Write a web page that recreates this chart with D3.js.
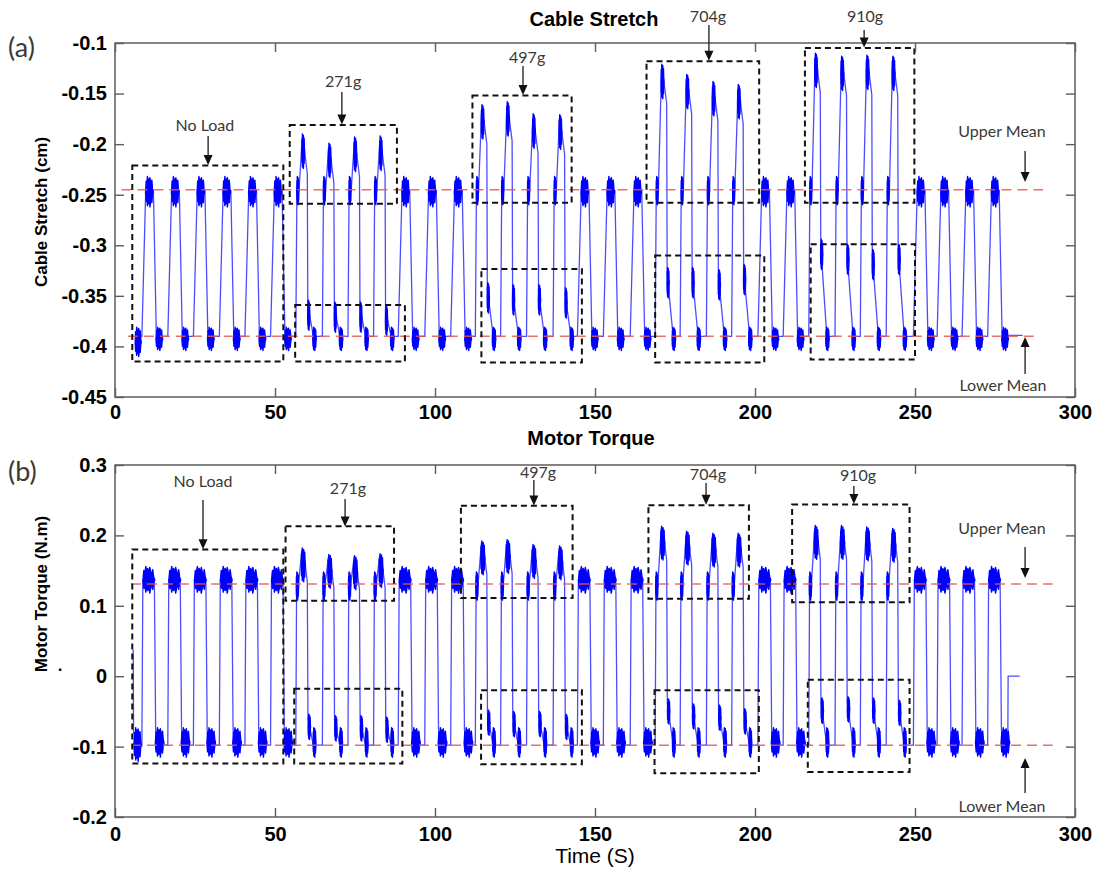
<!DOCTYPE html>
<html>
<head>
<meta charset="utf-8">
<script src="https://cdn.jsdelivr.net/npm/d3@7"></script>
<style>
    body { margin: 0; background: #fff; }
    svg { display: block; }
</style>
</head>
<body>
<svg width="1097" height="869"></svg>
<script>
(function () {
    'use strict'

    // time (s) at which each pulse starts to rise
    const riseStart = [8.4, 16.5, 24.5, 32.6, 40.6, 48.6,
        56.5, 64.8, 72.8, 80.8,
        88.5, 96.8, 104.9,
        112.6, 120.5, 128.6, 136.9,
        144.5, 152.6, 161.0,
        168.8, 176.6, 184.8, 192.7,
        200.9, 208.8,
        216.8, 225.0, 232.9, 241.0,
        249.5, 256.9, 264.7, 272.7];

    // 0 = no load, 1 = 271g, 2 = 497g, 3 = 704g, 4 = 910g
    const cycleLoad = [0, 0, 0, 0, 0, 0, 1, 1, 1, 1, 0, 0, 0, 2, 2, 2, 2, 0, 0, 0,
        3, 3, 3, 3, 0, 0, 4, 4, 4, 4, 0, 0, 0, 0];
    const loadNames = ['No Load', '271g', '497g', '704g', '910g'];

    // cable stretch (cm): top of each pulse, and where the falling hook starts
    const stretchPeak = [-0.243, -0.242, -0.244, -0.243, -0.242, -0.245,
        -0.194, -0.203, -0.197, -0.196,
        -0.244, -0.243, -0.242,
        -0.165, -0.162, -0.174, -0.175,
        -0.245, -0.243, -0.244,
        -0.125, -0.135, -0.142, -0.145,
        -0.242, -0.244,
        -0.114, -0.117, -0.116, -0.117,
        -0.243, -0.242, -0.244, -0.243];
    const stretchHook = [null, null, null, null, null, null,
        -0.360, -0.362, -0.362, -0.365,
        null, null, null,
        -0.343, -0.345, -0.345, -0.348,
        null, null, null,
        -0.328, -0.328, -0.330, -0.325,
        null, null,
        -0.300, -0.305, -0.310, -0.305,
        null, null, null, null];

    // motor torque (N.m)
    const torquePeak = [0.135, 0.135, 0.135, 0.135, 0.135, 0.135,
        0.179, 0.170, 0.168, 0.171,
        0.135, 0.135, 0.135,
        0.189, 0.191, 0.184, 0.182,
        0.135, 0.135, 0.135,
        0.210, 0.203, 0.200, 0.200,
        0.135, 0.135,
        0.211, 0.211, 0.209, 0.207,
        0.135, 0.135, 0.135, 0.135];
    const torqueHook = [null, null, null, null, null, null,
        -0.060, -0.062, -0.062, -0.064,
        null, null, null,
        -0.054, -0.056, -0.056, -0.060,
        null, null, null,
        -0.038, -0.045, -0.047, -0.052,
        null, null,
        -0.037, -0.035, -0.037, -0.040,
        null, null, null, null];

    // start and end of the recordings
    const stretchHead = [[6.2, -0.386]];
    const stretchTail = [[279.3, -0.389], [283.6, -0.389]];
    const torqueHead = [[5.7, 0.038], [5.8, -0.08]];
    const torqueTail = [[279.0, -0.1], [279.1, 0.0], [282.7, 0.0]];

    const upperMean = { stretch: -0.245, torque: 0.131 };
    const lowerMean = { stretch: -0.390, torque: -0.098 };

    const xTicks = [0, 50, 100, 150, 200, 250, 300];
    const stretchTicks = [-0.45, -0.4, -0.35, -0.3, -0.25, -0.2, -0.15, -0.1];
    const torqueTicks = [-0.2, -0.1, 0, 0.1, 0.2, 0.3];

    // dashed boxes [t0, t1, top, bottom]
    const stretchBoxes = [[5.4, 52.6, -0.221, -0.415], [54.6, 88.1, -0.181, -0.259], [56.3, 90.6, -0.359, -0.415],
        [111.7, 142.7, -0.152, -0.258], [114.5, 145.9, -0.3235, -0.416],
        [166.1, 201.3, -0.118, -0.258], [168.8, 202.9, -0.310, -0.416],
        [215.6, 249.8, -0.105, -0.258], [217.4, 250.0, -0.299, -0.413]];
    const torqueBoxes = [[5.4, 52.6, 0.18, -0.124], [53.3, 87.2, 0.213, 0.107], [56.0, 89.8, -0.018, -0.124],
        [108.1, 143.0, 0.242, 0.111], [114.4, 145.9, -0.02, -0.125],
        [166.7, 198.1, 0.243, 0.110], [168.6, 201.2, -0.02, -0.138],
        [211.6, 248.3, 0.244, 0.105], [216.5, 248.3, -0.005, -0.136]];

    // label [text, t, value], arrow [t, from, to]
    const stretchNotes = [[0, 28.1, -0.181, 29.1, -0.192, -0.2205], [1, 71.3, -0.1376, 70.9, -0.1484, -0.1805],
        [2, 128.8, -0.1138, 127.5, -0.1227, -0.1515], [3, 185.3, -0.0733, 185.6, -0.0822, -0.1175],
        [4, 234.4, -0.0733, 234.1, -0.0871, -0.1045]];
    const torqueNotes = [[0, 27.5, 0.2773, 27.5, 0.2503, 0.1805], [1, 72.8, 0.2673, 71.9, 0.2517, 0.2125],
        [2, 132.2, 0.290, 130.9, 0.2787, 0.2425], [3, 185.3, 0.2872, 184.7, 0.2744, 0.2435],
        [4, 232.2, 0.2858, 230.9, 0.2702, 0.2445]];
    const stretchMeanNotes = [['Upper Mean', 277.2, -0.187, 284.4, -0.2068, -0.2374], ['Lower Mean', 277.5, -0.439, 284.4, -0.4273, -0.3907]];
    const torqueMeanNotes = [['Upper Mean', 277.2, 0.2105, 284.4, 0.1835, 0.1395], ['Lower Mean', 277.2, -0.1844, 284.4, -0.1659, -0.1162]];

    // ragged outline used for the noisy plateaus (fraction of band)
    const noiseTop = [0.45, 0.85, 0.7, 1.0, 0.78, 0.92, 0.72, 0.96, 0.8, 0.66, 0.88, 0.6, 0.5];
    const noiseBot = [0.5, 0.18, 0.32, 0.04, 0.24, 0.1, 0.3, 0.0, 0.2, 0.36, 0.14, 0.4, 0.48];

    const BLUE = '#0000ff';
    const NUM_FONT = '"Liberation Sans", Arial, sans-serif';
    const NOTE_FONT = 'Lato, "Open Sans", sans-serif';

    let svg = d3.select('svg');

    let x = d3.scaleLinear().domain([0, 300]).range([115, 1075]);

    let panels = [{
        key: 'stretch',
        y: d3.scaleLinear().domain([-0.45, -0.1]).range([397, 43]),
        ticks: stretchTicks, peaks: stretchPeak, hooks: stretchHook,
        head: stretchHead, tail: stretchTail, boxes: stretchBoxes, notes: stretchNotes, meanNotes: stretchMeanNotes,
        meanSpan: [[2, 290], [4, 288]],
        low: -0.390, high: -0.246, mid: -0.246, fallEnd: -0.386, floor: -0.393, sag: [0.012, 0.035],
        upperBand: [-0.262, -0.232], lowerBand: [-0.404, -0.381], midBand: [-0.26, -0.232],
        peakBand: [-0.03, 0.004], hookBand: [-0.024, 0.006],
        normal: [[0, 'low'], [1.2, 'high'], [3.6, 'high'], [4.5, 'fall'], [6.4, 'low']],
        normalBlobs: [[1.15, 3.5, 'upper'], [4.4, 6.5, 'lower']],
        loaded: [[0, 'low'], [0.35, 'mid'], [1.0, 'mid'], [2.0, 'peak'], [2.7, 'peakA'], [3.6, 'peakB'], [3.75, 'hook'], [5.7, 'floor'], [6.4, 'low']],
        loadedBlobs: [[0.3, 1.0, 'mid'], [1.85, 2.75, 'peak'], [3.7, 4.4, 'hook'], [5.3, 6.4, 'lower']]
    }, {
        key: 'torque',
        y: d3.scaleLinear().domain([-0.2, 0.3]).range([817, 465]),
        ticks: torqueTicks, peaks: torquePeak, hooks: torqueHook,
        head: torqueHead, tail: torqueTail, boxes: torqueBoxes, notes: torqueNotes, meanNotes: torqueMeanNotes,
        meanSpan: [[5, 293], [5, 293]],
        low: -0.098, high: 0.134, mid: 0.128, fallEnd: -0.075, floor: -0.11, sag: [0.015, 0.045],
        upperBand: [0.118, 0.156], lowerBand: [-0.115, -0.073], midBand: [0.108, 0.148],
        peakBand: [-0.045, 0.003], hookBand: [-0.03, 0.006],
        normal: [[0, 'low'], [0.3, 'high'], [3.9, 'high'], [4.3, 'fall'], [4.7, 'low']],
        normalBlobs: [[0.3, 4.0, 'upper'], [4.2, 6.9, 'lower']],
        loaded: [[0, 'low'], [0.25, 'mid'], [0.8, 'mid'], [1.9, 'peak'], [2.8, 'peakA'], [3.6, 'peakB'], [3.8, 'hook'], [6.0, 'floor'], [6.3, 'low']],
        loadedBlobs: [[0.15, 0.9, 'mid'], [1.7, 3.0, 'peak'], [3.85, 4.6, 'hook'], [5.4, 6.3, 'lower']]
    }];

    function levelOf(p, key, i) {
        switch (key) {
            case 'low': return p.low;
            case 'high': return p.high;
            case 'mid': return p.mid;
            case 'fall': return p.fallEnd;
            case 'floor': return p.floor;
            case 'peak': return p.peaks[i];
            case 'peakA': return p.peaks[i] - p.sag[0];
            case 'peakB': return p.peaks[i] - p.sag[1];
            case 'hook': return p.hooks[i];
        }
    }

    function bandOf(p, key, i) {
        if (key === 'upper') return p.upperBand;
        if (key === 'lower') return p.lowerBand;
        if (key === 'mid') return p.midBand;
        if (key === 'peak') return [p.peaks[i] + p.peakBand[0], p.peaks[i] + p.peakBand[1]];
        return [p.hooks[i] + p.hookBand[0], p.hooks[i] + p.hookBand[1]];
    }

    function noiseBlob(t0, t1, band) {
        let n = noiseTop.length - 1;
        return noiseTop.map((v, k) => [t0 + (t1 - t0) * k / n,
            band[0] + (band[1] - band[0]) * noiseBot[k],
            band[0] + (band[1] - band[0]) * v]);
    }

    function drawPanel(p) {
        let y = p.y;
        let g = svg.append('g').attr('class', 'panel-' + p.key);

        // signal, built pulse by pulse
        let pts = p.head.slice();
        let blobs = [];
        riseStart.forEach(function (t0, i) {
            let loaded = cycleLoad[i] > 0;
            (loaded ? p.loaded : p.normal).forEach(d => pts.push([t0 + d[0], levelOf(p, d[1], i)]));
            (loaded ? p.loadedBlobs : p.normalBlobs).forEach(function (b) {
                blobs.push(noiseBlob(t0 + b[0], t0 + b[1], bandOf(p, b[2], i)));
            });
        });
        let h = p.head[p.head.length - 1];
        blobs.push(noiseBlob(h[0] + 0.1, riseStart[0] - 0.2, [p.lowerBand[0] - 0.006, p.lowerBand[1]]));
        pts = pts.concat(p.tail);

        let line = d3.line().x(d => x(d[0])).y(d => y(d[1]));
        let area = d3.area().x(d => x(d[0])).y0(d => y(d[1])).y1(d => y(d[2]));

        g.append('path')
            .attr('d', line(pts))
            .attr('fill', 'none')
            .attr('stroke', BLUE)
            .attr('stroke-opacity', 0.7)
            .attr('stroke-width', 1.3);

        g.selectAll('path.noise')
            .data(blobs)
            .enter()
            .append('path')
            .attr('class', 'noise')
            .attr('d', area)
            .attr('fill', BLUE)
            .attr('stroke', BLUE)
            .attr('stroke-width', 1.4)
            .attr('stroke-linejoin', 'round');

        // mean lines
        g.selectAll('line.mean')
            .data([upperMean[p.key], lowerMean[p.key]])
            .enter()
            .append('line')
            .attr('class', 'mean')
            .attr('x1', (d, i) => x(p.meanSpan[i][0]))
            .attr('x2', (d, i) => x(p.meanSpan[i][1]))
            .attr('y1', d => y(d))
            .attr('y2', d => y(d))
            .attr('stroke', '#e5584f')
            .attr('stroke-opacity', 0.85)
            .attr('stroke-width', 1.5)
            .attr('stroke-dasharray', '10,6');

        // dashed boxes
        g.selectAll('rect.box')
            .data(p.boxes)
            .enter()
            .append('rect')
            .attr('class', 'box')
            .attr('x', d => x(d[0]))
            .attr('y', d => y(d[2]))
            .attr('width', d => x(d[1]) - x(d[0]))
            .attr('height', d => y(d[3]) - y(d[2]))
            .attr('fill', 'none')
            .attr('stroke', '#111')
            .attr('stroke-width', 2)
            .attr('stroke-dasharray', '6,4');

        // frame and axes (ticks point inwards, MATLAB style)
        let [y0, y1] = y.range();
        g.append('rect')
            .attr('x', x(0)).attr('y', y1)
            .attr('width', x(300) - x(0)).attr('height', y0 - y1)
            .attr('fill', 'none').attr('stroke', '#5c5c5c').attr('stroke-width', 1.5);

        let fmt = d => String(d);
        let axes = [
            [d3.axisBottom(x).tickValues(xTicks).tickFormat(d3.format('d')).tickPadding(p.key === 'stretch' ? 8 : 10), 'translate(0,' + y0 + ')'],
            [d3.axisTop(x).tickValues(xTicks).tickFormat(''), 'translate(0,' + y1 + ')'],
            [d3.axisLeft(y).tickValues(p.ticks).tickFormat(fmt).tickPadding(8), 'translate(' + x(0) + ',0)'],
            [d3.axisRight(y).tickValues(p.ticks).tickFormat(''), 'translate(' + x(300) + ',0)']
        ];
        axes.forEach(function (a) {
            let ax = g.append('g')
                .attr('transform', a[1])
                .call(a[0].tickSizeInner(-9).tickSizeOuter(0));
            ax.select('.domain').remove();
            ax.selectAll('line').attr('stroke', '#5c5c5c').attr('stroke-width', 1.4);
            ax.selectAll('text')
                .attr('font-family', NUM_FONT)
                .attr('font-size', 20)
                .attr('font-weight', 'bold')
                .attr('fill', '#000');
        });

        // annotations
        let notes = p.notes.map(d => [loadNames[d[0]]].concat(d.slice(1))).concat(p.meanNotes);
        g.selectAll('text.note')
            .data(notes)
            .enter()
            .append('text')
            .attr('class', 'note')
            .attr('x', d => x(d[1]))
            .attr('y', d => y(d[2]))
            .attr('dy', '0.35em')
            .attr('text-anchor', 'middle')
            .attr('font-family', NOTE_FONT)
            .attr('font-size', 16)
            .attr('fill', '#3b3936')
            .text(d => d[0]);

        g.selectAll('line.arrow')
            .data(notes)
            .enter()
            .append('line')
            .attr('class', 'arrow')
            .attr('x1', d => x(d[3]))
            .attr('x2', d => x(d[3]))
            .attr('y1', d => y(d[4]))
            .attr('y2', d => y(d[5]) + (y(d[5]) > y(d[4]) ? -8 : 8))
            .attr('stroke', '#1a1a1a')
            .attr('stroke-width', 1.3);

        g.selectAll('path.head')
            .data(notes)
            .enter()
            .append('path')
            .attr('class', 'head')
            .attr('d', function (d) {
                let tx = x(d[3]), ty = y(d[5]);
                let s = y(d[5]) > y(d[4]) ? -1 : 1;
                return 'M' + tx + ',' + ty + 'L' + (tx - 4.5) + ',' + (ty + s * 10) + 'L' + (tx + 4.5) + ',' + (ty + s * 10) + 'Z';
            })
            .attr('fill', '#111');
    }

    panels.forEach(drawPanel);

    // titles and axis labels
    let txt = [
        ['Cable Stretch', 594, 26, 20, 'bold', 0, NUM_FONT],
        ['Motor Torque', 591, 445, 20, 'bold', 0, NUM_FONT],
        ['Time (S)', 595, 863, 21, 'normal', 0, NUM_FONT],
        ['Cable Stretch (cm)', 47, 212, 17, 'bold', -90, NUM_FONT],
        ['Motor Torque (N.m)', 47, 594, 17, 'bold', -90, NUM_FONT]
    ];
    svg.selectAll('text.label')
        .data(txt)
        .enter()
        .append('text')
        .attr('class', 'label')
        .attr('transform', d => 'translate(' + d[1] + ',' + d[2] + ') rotate(' + d[5] + ')')
        .attr('text-anchor', 'middle')
        .attr('font-family', d => d[6])
        .attr('font-size', d => d[3])
        .attr('font-weight', d => d[4])
        .attr('fill', '#000')
        .text(d => d[0]);

    svg.append('text')
        .attr('x', 60).attr('y', 671)
        .attr('text-anchor', 'middle')
        .attr('font-family', NUM_FONT).attr('font-size', 17).attr('font-weight', 'bold')
        .text('.');

    svg.selectAll('text.tag')
        .data([['(a)', 57], ['(b)', 481]])
        .enter()
        .append('text')
        .attr('class', 'tag')
        .attr('x', 8)
        .attr('y', d => d[1])
        .attr('font-family', NOTE_FONT)
        .attr('font-size', 27)
        .attr('fill', '#3b3936')
        .text(d => d[0]);
})();
</script>
</body>
</html>
